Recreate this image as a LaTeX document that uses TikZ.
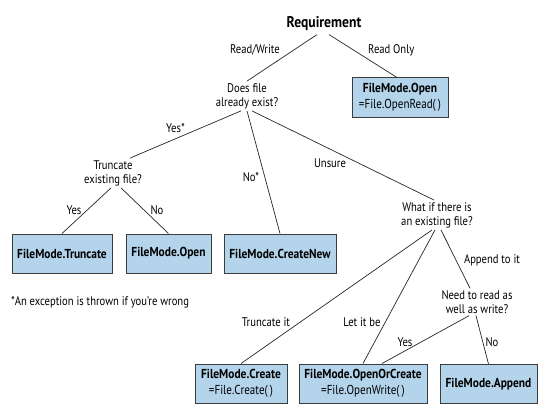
\documentclass[tikz,border=0pt]{standalone}
\usepackage{fontspec}
\setmainfont{PT Sans}[FakeStretch=0.85, BoldFeatures={FakeStretch=0.88}]
\usepackage{tikz}
\definecolor{modeblue}{RGB}{179,212,235}
\definecolor{boxgray}{RGB}{60,60,60}
\tikzset{
  modebox/.style={draw=boxgray, line width=1pt, fill=modeblue, align=center,
    font=\bfseries\fontsize{13}{15.5}\selectfont, minimum height=39pt, inner sep=2pt},
  question/.style={align=center, font=\fontsize{12.5}{14}\selectfont, inner sep=2pt},
  choice/.style={font=\fontsize{12.5}{14}\selectfont, inner sep=1pt},
  branch/.style={line width=0.7pt, black!85}
}

\begin{document}
\begin{tikzpicture}[x=1pt, y=-1pt]
    \useasboundingbox (0,0) rectangle (549,420);

    % Questions
    \node[font=\bfseries\fontsize{15.5}{17}\selectfont] (req) at (324,24) {Requirement};
    \node[question] (exist) at (247,96) {Does file\\already exist?};
    \node[question] (trunc) at (113,173) {Truncate\\existing file?};
    \node[question] (whatif) at (437,215) {What if there is\\an existing file?};
    \node[question] (readwrite) at (477,302) {Need to read as\\well as write?};

    % File modes
    \node[modebox, minimum width=96pt] (openread) at (400,97.5) {FileMode.Open\\{\mdseries =File.OpenRead(\,)}};
    \foreach \x/\w/\name/\mode in {62/100/mtrunc/Truncate, 168.5/85/mopen/Open, 280/112/mnew/CreateNew} {
        \node[modebox, minimum width=\w pt] (\name) at (\x,253.5) {FileMode.\mode};
    }
    \node[modebox, minimum width=92pt] (mcreate) at (241,383.5) {FileMode.Create\\{\mdseries =File.Create(\,)}};
    \node[modebox, minimum width=128pt] (mopenorcreate) at (363,383.5) {FileMode.OpenOrCreate\\{\mdseries =File.OpenWrite(\,)}};
    \node[modebox, minimum width=97pt] (mappend) at (488.5,384) {FileMode.Append};

    % Branches
    \draw[branch] ([xshift=-7pt]req.south) -- (exist.north);
    \draw[branch] ([xshift=5pt]req.south) -- ([xshift=-3pt]openread.north);
    \draw[branch] ([xshift=-6pt]exist.south) -- ([xshift=17pt]trunc.north);
    \draw[branch] (exist.south) -- (mnew.north);
    \draw[branch] ([xshift=5pt]exist.south) -- ([xshift=-3pt]whatif.north);
    \draw[branch] ([xshift=-2pt]trunc.south) -- (mtrunc.north);
    \draw[branch] ([xshift=8pt]trunc.south) -- (mopen.north);
    \draw[branch] ([xshift=-5pt]whatif.south) -- (mcreate.north);
    \draw[branch] ([xshift=-2pt]whatif.south) -- (mopenorcreate.north);
    \draw[branch] ([xshift=4pt]whatif.south) -- ([xshift=-7pt]readwrite.north);
    \draw[branch] ([xshift=-8pt]readwrite.south) -- ([xshift=19pt]mopenorcreate.north);
    \draw[branch] ([xshift=-1pt]readwrite.south) -- (mappend.north);

    % Answers
    \node[choice, anchor=east] (lrw) at (281,50) {Read/Write};
    \node[choice, anchor=west] (lro) at (367,50) {Read Only};
    \node[choice, anchor=east] (lyesstar) at (186,128) {Yes*};
    \node[choice] (lnostar) at (251,177) {No*};
    \node[choice] (lunsure) at (330,163) {Unsure};
    \node[choice] (lyes) at (74,210) {Yes};
    \node[choice] (lno) at (157,210) {No};
    \node[choice] (ltruncit) at (266,322) {Truncate it};
    \node[choice] (lletbe) at (362,322) {Let it be};
    \node[choice] (lappendto) at (492,260) {Append to it};
    \node[choice] (lyesrw) at (405,342) {Yes};
    \node[choice] (lnorw) at (492,342) {No};

    % Footnote
    \node[choice, anchor=west] (note) at (10,302) {*An exception is thrown if you’re wrong};
\end{tikzpicture}
\end{document}
